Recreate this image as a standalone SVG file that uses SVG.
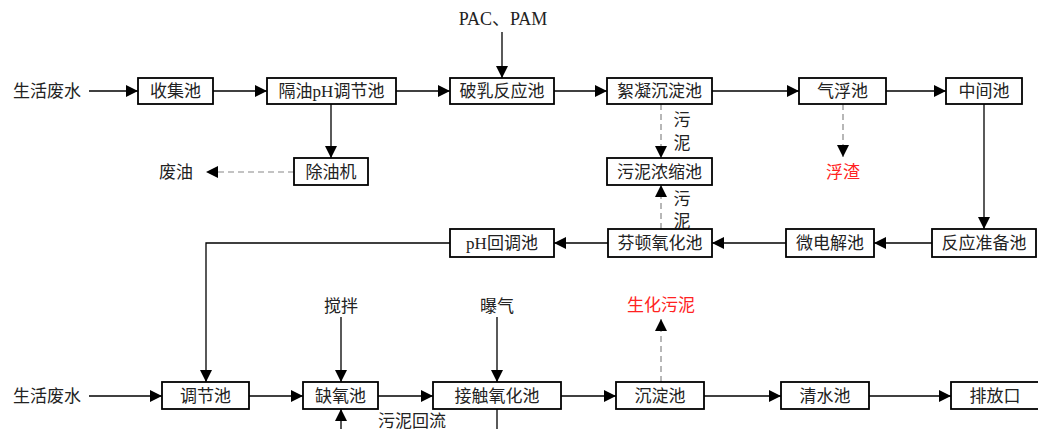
<svg xmlns="http://www.w3.org/2000/svg" width="1038" height="429" viewBox="0 0 1038 429">
<defs>
<marker id="ah" markerUnits="userSpaceOnUse" markerWidth="12" markerHeight="12" viewBox="0 0 12 12" refX="12" refY="6" orient="auto">
<path d="M0,0 L12,6 L0,12 Z" fill="#000"/>
</marker>
</defs>
<style>
.box{fill:#fff;stroke:#000;stroke-width:1.8}
.t{font-family:"Liberation Serif","Noto Sans CJK SC",serif;font-size:17px;fill:#222;text-anchor:middle;dominant-baseline:central}
.red{fill:#f22}
.ln{fill:none;stroke:#000;stroke-width:1.3}
.ds{fill:none;stroke:#888;stroke-width:1.2;stroke-dasharray:6,4}
</style>
<rect width="1038" height="429" fill="#fff"/>
<g id="connectors">
<line class="ln" x1="89" y1="91" x2="138" y2="91" marker-end="url(#ah)"/>
<line class="ln" x1="213" y1="91" x2="267" y2="91" marker-end="url(#ah)"/>
<line class="ln" x1="396" y1="91" x2="450" y2="91" marker-end="url(#ah)"/>
<line class="ln" x1="554" y1="91" x2="607" y2="91" marker-end="url(#ah)"/>
<line class="ln" x1="712" y1="91" x2="799" y2="91" marker-end="url(#ah)"/>
<line class="ln" x1="886" y1="91" x2="946" y2="91" marker-end="url(#ah)"/>
<line class="ln" x1="502" y1="32" x2="502" y2="78" marker-end="url(#ah)"/>
<line class="ln" x1="331" y1="104" x2="331" y2="158" marker-end="url(#ah)"/>
<line class="ds" x1="294" y1="172" x2="206" y2="172" marker-end="url(#ah)"/>
<line class="ds" x1="661" y1="104" x2="661" y2="158" marker-end="url(#ah)"/>
<line class="ds" x1="843" y1="104" x2="843" y2="157" marker-end="url(#ah)"/>
<line class="ln" x1="984" y1="104" x2="984" y2="229" marker-end="url(#ah)"/>
<line class="ln" x1="932" y1="243" x2="874" y2="243" marker-end="url(#ah)"/>
<line class="ln" x1="786" y1="243" x2="712" y2="243" marker-end="url(#ah)"/>
<line class="ln" x1="608" y1="243" x2="554" y2="243" marker-end="url(#ah)"/>
<line class="ds" x1="661" y1="229" x2="661" y2="185" marker-end="url(#ah)"/>
<polyline class="ln" points="450,243 206,243 206,382" marker-end="url(#ah)"/>
<line class="ln" x1="89" y1="396" x2="162" y2="396" marker-end="url(#ah)"/>
<line class="ln" x1="249" y1="396" x2="303" y2="396" marker-end="url(#ah)"/>
<line class="ln" x1="378" y1="396" x2="433" y2="396" marker-end="url(#ah)"/>
<line class="ln" x1="561" y1="396" x2="616" y2="396" marker-end="url(#ah)"/>
<line class="ln" x1="704" y1="396" x2="781" y2="396" marker-end="url(#ah)"/>
<line class="ln" x1="869" y1="396" x2="951" y2="396" marker-end="url(#ah)"/>
<line class="ln" x1="341" y1="317" x2="341" y2="382" marker-end="url(#ah)"/>
<line class="ln" x1="497" y1="317" x2="497" y2="382" marker-end="url(#ah)"/>
<line class="ln" x1="341" y1="430" x2="341" y2="409" marker-end="url(#ah)"/>
<line class="ln" x1="497" y1="409" x2="497" y2="430"/>
<line class="ds" x1="661" y1="382" x2="661" y2="319" marker-end="url(#ah)"/>
</g>
<g id="labels">
<text class="t" x="47" y="91">生活废水</text>
<text class="t" x="503" y="19" style="font-size:18px">PAC、PAM</text>
<text class="t" x="176" y="172">废油</text>
<text class="t" x="682" y="120">污</text>
<text class="t" x="682" y="143">泥</text>
<text class="t" x="682" y="199">污</text>
<text class="t" x="682" y="221">泥</text>
<text class="t red" x="843" y="172">浮渣</text>
<text class="t" x="47" y="396">生活废水</text>
<text class="t" x="341" y="306">搅拌</text>
<text class="t" x="497" y="306">曝气</text>
<text class="t red" x="661" y="305">生化污泥</text>
<text class="t" x="412" y="421">污泥回流</text>
</g>
<g id="n1"><rect class="box" x="138" y="78" width="75" height="26"/><text class="t" x="175.5" y="91">收集池</text></g>
<g id="n2"><rect class="box" x="267" y="78" width="129" height="26"/><text class="t" x="331.5" y="91">隔油pH调节池</text></g>
<g id="n3"><rect class="box" x="450" y="78" width="104" height="26"/><text class="t" x="502" y="91">破乳反应池</text></g>
<g id="n4"><rect class="box" x="607" y="78" width="105" height="26"/><text class="t" x="659.5" y="91">絮凝沉淀池</text></g>
<g id="n5"><rect class="box" x="799" y="78" width="87" height="26"/><text class="t" x="842.5" y="91">气浮池</text></g>
<g id="n6"><rect class="box" x="946" y="78" width="76" height="26"/><text class="t" x="984" y="91">中间池</text></g>
<g id="n7"><rect class="box" x="294" y="158" width="74" height="27"/><text class="t" x="331" y="172">除油机</text></g>
<g id="n8"><rect class="box" x="607" y="158" width="105" height="27"/><text class="t" x="659.5" y="172">污泥浓缩池</text></g>
<g id="n9"><rect class="box" x="932" y="229" width="104" height="28"/><text class="t" x="984" y="243">反应准备池</text></g>
<g id="n10"><rect class="box" x="786" y="229" width="88" height="28"/><text class="t" x="830" y="243">微电解池</text></g>
<g id="n11"><rect class="box" x="608" y="229" width="104" height="28"/><text class="t" x="660" y="243">芬顿氧化池</text></g>
<g id="n12"><rect class="box" x="450" y="229" width="104" height="28"/><text class="t" x="502" y="243">pH回调池</text></g>
<g id="n13"><rect class="box" x="162" y="382" width="87" height="27"/><text class="t" x="205.5" y="396">调节池</text></g>
<g id="n14"><rect class="box" x="303" y="382" width="75" height="27"/><text class="t" x="340.5" y="396">缺氧池</text></g>
<g id="n15"><rect class="box" x="433" y="382" width="128" height="27"/><text class="t" x="497" y="396">接触氧化池</text></g>
<g id="n16"><rect class="box" x="616" y="382" width="88" height="27"/><text class="t" x="660" y="396">沉淀池</text></g>
<g id="n17"><rect class="box" x="781" y="382" width="88" height="27"/><text class="t" x="825" y="396">清水池</text></g>
<g id="n18"><rect class="box" x="951" y="382" width="90" height="27"/><text class="t" x="995" y="396">排放口</text></g>
</svg>
